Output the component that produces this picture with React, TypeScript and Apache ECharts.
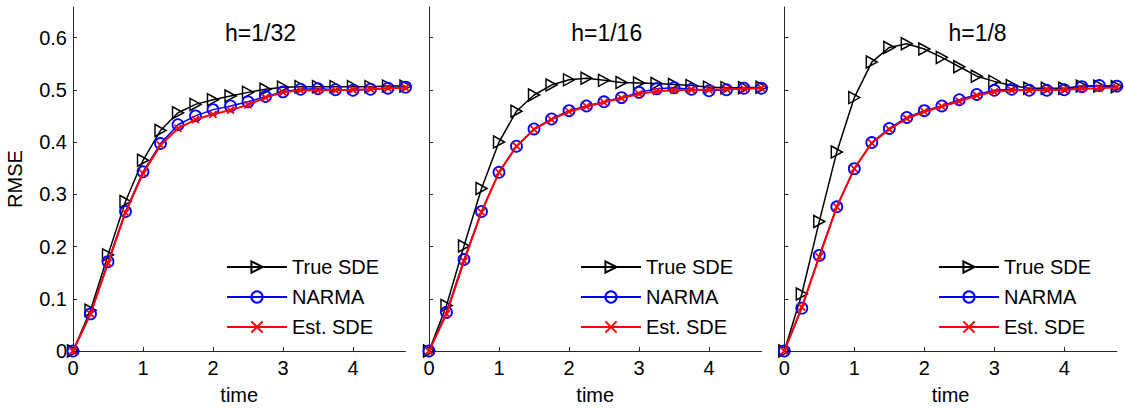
import React, { useEffect, useRef } from "react";
import * as echarts from "echarts";

const times = [0, 0.25, 0.5, 0.75, 1, 1.25, 1.5, 1.75, 2, 2.25, 2.5, 2.75, 3, 3.25, 3.5, 3.75, 4, 4.25, 4.5, 4.75];
const panelTitles = ["h=1/32", "h=1/16", "h=1/8"];
const seriesNames = ["True SDE", "NARMA", "Est. SDE"];
const yTicks = [0, 0.1, 0.2, 0.3, 0.4, 0.5, 0.6];
const xTicks = [0, 1, 2, 3, 4];

const true32 = [0, 0.078, 0.184, 0.286, 0.365, 0.422, 0.456, 0.472, 0.481, 0.488, 0.495, 0.501, 0.505, 0.506, 0.506, 0.506, 0.506, 0.506, 0.507, 0.507];
const narma32 = [0, 0.071, 0.171, 0.267, 0.343, 0.397, 0.433, 0.45, 0.462, 0.469, 0.477, 0.487, 0.496, 0.501, 0.502, 0.5, 0.499, 0.501, 0.503, 0.505];
const est32 = [0, 0.071, 0.168, 0.265, 0.34, 0.394, 0.426, 0.443, 0.453, 0.461, 0.471, 0.485, 0.495, 0.499, 0.499, 0.499, 0.5, 0.501, 0.503, 0.504];

const true16 = [0, 0.087, 0.201, 0.311, 0.4, 0.459, 0.49, 0.509, 0.519, 0.522, 0.518, 0.514, 0.513, 0.512, 0.51, 0.508, 0.505, 0.504, 0.504, 0.505];
const narma16 = [0, 0.074, 0.175, 0.267, 0.342, 0.392, 0.425, 0.444, 0.46, 0.469, 0.477, 0.485, 0.495, 0.502, 0.504, 0.501, 0.498, 0.5, 0.503, 0.503];
const est16 = [0, 0.071, 0.172, 0.266, 0.342, 0.392, 0.424, 0.443, 0.458, 0.468, 0.476, 0.484, 0.492, 0.497, 0.499, 0.5, 0.5, 0.501, 0.502, 0.503];

const true8 = [0, 0.109, 0.248, 0.381, 0.485, 0.553, 0.581, 0.588, 0.578, 0.562, 0.544, 0.526, 0.516, 0.508, 0.503, 0.503, 0.503, 0.507, 0.507, 0.506];
const narma8 = [0, 0.082, 0.183, 0.276, 0.349, 0.399, 0.426, 0.447, 0.46, 0.469, 0.481, 0.491, 0.499, 0.501, 0.499, 0.499, 0.5, 0.506, 0.508, 0.507];
const est8 = [0, 0.084, 0.18, 0.276, 0.349, 0.398, 0.424, 0.445, 0.458, 0.468, 0.478, 0.489, 0.496, 0.499, 0.499, 0.5, 0.5, 0.502, 0.503, 0.505];

const panelData = [
  [true32, narma32, est32],
  [true16, narma16, est16],
  [true8, narma8, est8],
];

const FONT = "Liberation Sans, Arial, Helvetica, sans-serif";
const gridLefts = [73, 429, 784.3];
const GRID_W = 332.5;
const GRID_TOP = 7;
const GRID_H = 347;
const titleCenters = [255.5, 601.7, 972.5];
const legendLefts = [226, 580, 938];

const TRI = "path://M0,0L10,5L0,10Z";
const CROSS = "path://M0,0L10,10M10,0L0,10";

export default function App() {
  const ref = useRef<HTMLDivElement>(null);
  useEffect(() => {
    if (!ref.current) return;
    const chart = echarts.init(ref.current, null, { renderer: "svg" });
    const grids: any[] = [];
    const xAxes: any[] = [];
    const yAxes: any[] = [];
    const series: any[] = [];
    const titles: any[] = [];
    const legends: any[] = [];
    const axisLineStyle = { color: "#262626", width: 1 };
    for (let p = 0; p < 3; p++) {
      grids.push({ left: gridLefts[p], top: GRID_TOP, width: GRID_W, height: GRID_H });
      xAxes.push({
        type: "value",
        gridIndex: p,
        min: 0,
        max: 4.75,
        interval: 1,
        name: "time",
        nameLocation: "middle",
        nameGap: 34,
        nameTextStyle: { fontFamily: FONT, fontSize: 20, color: "#000" },
        axisLine: { show: true, lineStyle: axisLineStyle },
        axisTick: { show: true, inside: true, length: 4, lineStyle: axisLineStyle, customValues: xTicks },
        axisLabel: { show: true, fontFamily: FONT, fontSize: 20, color: "#000", margin: 7, customValues: xTicks },
        splitLine: { show: false },
      });
      yAxes.push({
        type: "value",
        gridIndex: p,
        min: 0,
        max: 0.6584,
        interval: 0.1,
        name: p === 0 ? "RMSE" : "",
        nameLocation: "middle",
        nameGap: 48,
        nameRotate: 90,
        nameTextStyle: { fontFamily: FONT, fontSize: 20, color: "#000" },
        axisLine: { show: true, lineStyle: axisLineStyle },
        axisTick: { show: true, inside: true, length: 4, lineStyle: axisLineStyle, customValues: yTicks },
        axisLabel: {
          show: p === 0,
          fontFamily: FONT,
          fontSize: 20,
          color: "#000",
          margin: 6,
          customValues: yTicks,
          formatter: (v: number) => (v === 0 ? "0" : String(Math.round(v * 10) / 10)),
        },
        splitLine: { show: false },
      });
      titles.push({
        text: panelTitles[p],
        left: titleCenters[p],
        top: 16,
        textAlign: "center",
        textStyle: { fontFamily: FONT, fontSize: 23, fontWeight: "normal", color: "#000" },
      });
      legends.push({
        data: seriesNames,
        left: legendLefts[p],
        top: 257,
        padding: 0,
        orient: "vertical",
        itemWidth: 60,
        itemHeight: 14,
        itemGap: 10,
        textStyle: { fontFamily: FONT, fontSize: 20, color: "#000" },
        selectedMode: false,
      });
      const d = panelData[p];
      const mk = (arr: number[]) => times.map((t, i) => [t, arr[i]]);
      series.push({
        name: seriesNames[0],
        type: "line",
        xAxisIndex: p,
        yAxisIndex: p,
        data: mk(d[0]),
        symbol: TRI,
        symbolSize: [11, 12],
        showAllSymbol: true,
        lineStyle: { color: "#000", width: 1.5 },
        itemStyle: { color: "rgba(255,255,255,0)", borderColor: "#000", borderWidth: 1.5 },
        clip: false,
        z: 2,
      });
      series.push({
        name: seriesNames[1],
        type: "line",
        xAxisIndex: p,
        yAxisIndex: p,
        data: mk(d[1]),
        symbol: "circle",
        symbolSize: 11,
        showAllSymbol: true,
        lineStyle: { color: "#0000ff", width: 1.5 },
        itemStyle: { color: "rgba(255,255,255,0)", borderColor: "#0000ff", borderWidth: 1.8 },
        clip: false,
        z: 3,
      });
      series.push({
        name: seriesNames[2],
        type: "line",
        xAxisIndex: p,
        yAxisIndex: p,
        data: mk(d[2]),
        symbol: CROSS,
        symbolSize: 7,
        showAllSymbol: true,
        lineStyle: { color: "#ff0000", width: 2 },
        itemStyle: { color: "rgba(255,255,255,0)", borderColor: "#ff0000", borderWidth: 1.8 },
        clip: false,
        z: 4,
      });
    }
    chart.setOption({
      animation: false,
      backgroundColor: "#fff",
      grid: grids,
      xAxis: xAxes,
      yAxis: yAxes,
      title: titles,
      legend: legends,
      series,
    });
    return () => chart.dispose();
  }, []);
  return (
    <div
      ref={ref}
      style={{ position: "absolute", left: 0, top: 0, width: 1125, height: 410 }}
    />
  );
}
